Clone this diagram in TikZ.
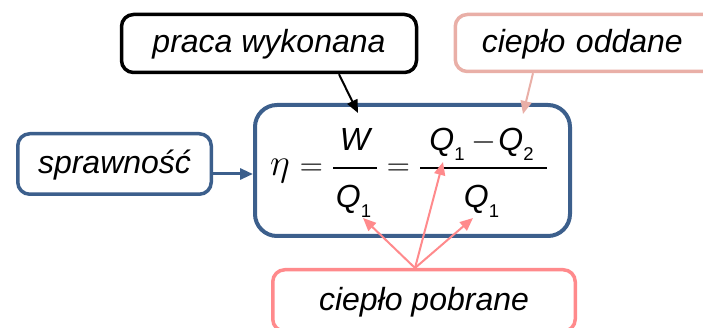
\RequirePackage{fix-cm}
\documentclass[tikz,border=0pt]{standalone}
\usepackage{fontspec}
\setmainfont{Liberation Sans}
\usetikzlibrary{arrows.meta}
\definecolor{bluebox}{HTML}{3C5F8C}
\definecolor{pinkA}{HTML}{FF8A8C}
\definecolor{pinkB}{HTML}{E9AFA7}
\newcommand\myQ[1]{Q\raisebox{-10pt}{\fontsize{18.5}{20}\selectfont\upshape #1}}
\begin{document}
\begin{tikzpicture}[x=1pt,y=-1pt,
  lbl/.style={font=\fontsize{32}{38}\selectfont\itshape, text height=25pt, text depth=6pt,
    inner sep=0pt, line width=3.5pt, rounded corners=12pt, draw, fill=white},
  arr/.style={line width=2pt, -{Triangle[length=13pt,width=11pt]}},
  eqt/.style={font=\fontsize{32}{38}\selectfont\itshape, anchor=base, inner sep=0pt},
  fbar/.style={line width=2pt}]
\useasboundingbox (0,0) rectangle (703,328);
\clip (0,0) rectangle (703,328);
% boxes
\node[lbl, draw=black, minimum width=295pt, minimum height=58pt] (praca) at (269,43.5) {praca wykonana};
\node[lbl, draw=pinkB, minimum height=57pt, text width=217pt, inner xsep=26.5pt, align=left, anchor=west] (odd) at (453.5,43) {ciepło oddane};
\node[lbl, draw=bluebox, minimum width=193.5pt, minimum height=60.5pt] (spr) at (114.5,164) {sprawność};
\node[lbl, draw=pinkA, minimum width=302.5pt, minimum height=61.5pt] (pob) at (424,300.5) {ciepło pobrane};
\node[draw=bluebox, line width=4pt, rounded corners=22pt, minimum width=315pt, minimum height=131pt, inner sep=0pt] (main) at (412.5,170.5) {};
% equation
\node[eqt] (eta) at (280,176) {\fontsize{38}{40}\selectfont$\eta$};
\node[eqt] (eqa) at (311.5,176) {$=$};
\node[eqt] (W) at (355,151) {W};
\node[eqt] (QA) at (353.5,208) {\myQ{1}};
\draw[fbar] (333,168) coordinate (b1l) -- (377,168) coordinate (b1r);
\node[eqt] (eqb) at (398.5,176) {$=$};
\node[eqt] (num) at (481.5,151) {\myQ{1}\hspace{7pt}$-$\hspace{2pt}\myQ{2}};
\node[eqt] (den) at (481.5,208) {\myQ{1}};
\draw[fbar] (420,168) coordinate (b2l) -- (547,168) coordinate (b2r);
% arrow targets
\coordinate (tW) at (358,113);
\coordinate (tQ2) at (523,114);
\coordinate (tQa) at (363,218);
\coordinate (tQb) at (443,162);
\coordinate (tQc) at (473,218);
% arrows
\draw[arr, black] ([xshift=70pt]praca.south) -- (tW);
\draw[arr, pinkB] ([xshift=79.5pt]odd.south west) -- (tQ2);
\draw[arr, bluebox, line width=3pt] ([yshift=-10pt]spr.east) -- ([yshift=-10pt]spr.east -| main.west);
\draw[arr, pinkA] ([xshift=-9pt]pob.north) -- (tQa);
\draw[arr, pinkA] ([xshift=-9pt]pob.north) -- (tQb);
\draw[arr, pinkA] ([xshift=-9pt]pob.north) -- (tQc);
\end{tikzpicture}
\end{document}
